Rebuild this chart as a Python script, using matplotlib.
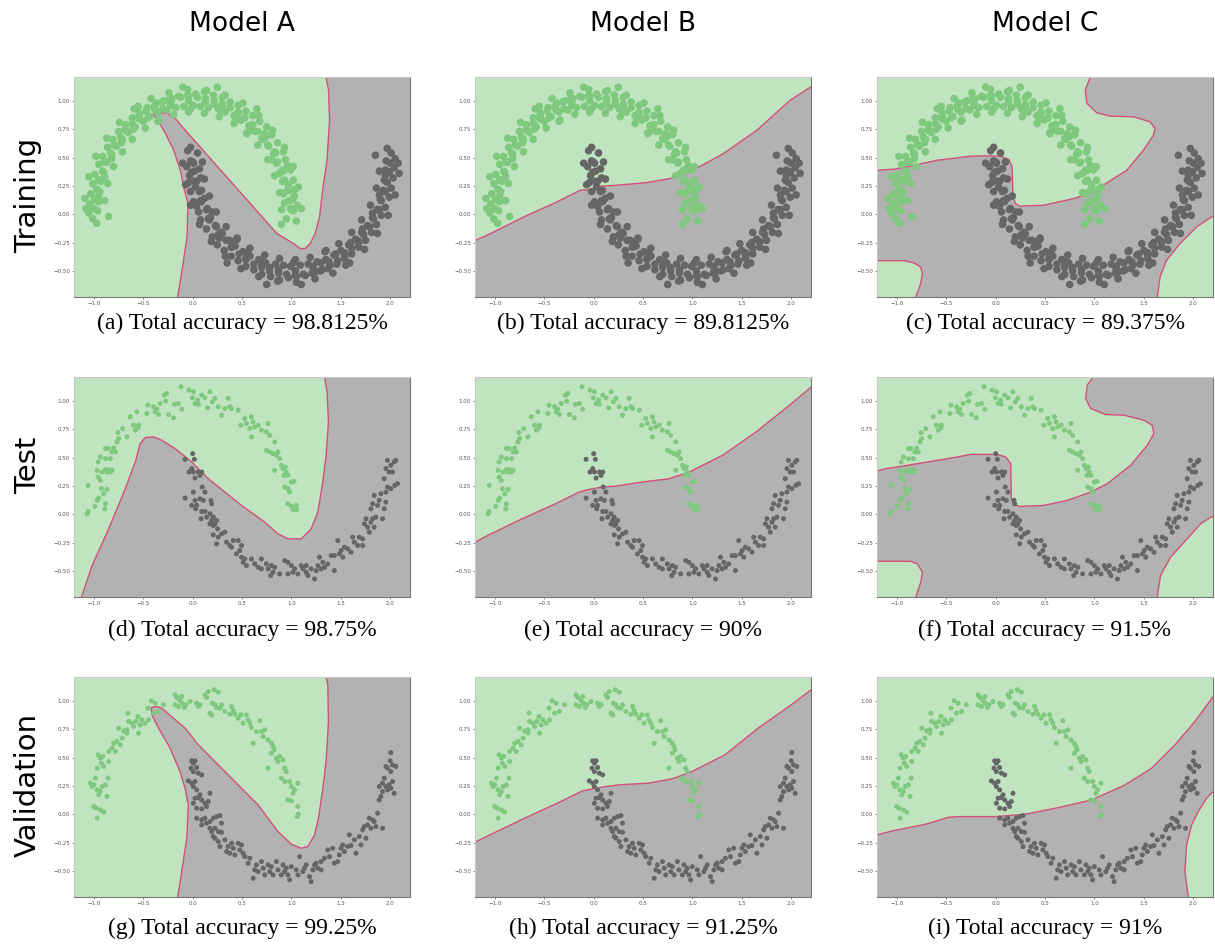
import numpy as np
import matplotlib.pyplot as plt

# ---------------- data ----------------
x_range = (-1.2, 2.2)
y_range = (-0.73, 1.21)
xticks = [-1.0, -0.5, 0.0, 0.5, 1.0, 1.5, 2.0]
yticks = [-0.5, -0.25, 0.0, 0.25, 0.5, 0.75, 1.0]

models = ['Model A', 'Model B', 'Model C']
sets = ['Training', 'Test', 'Validation']
accuracy = [['98.8125', '89.8125', '89.375'],
            ['98.75', '90', '91.5'],
            ['99.25', '91.25', '91']]
letters = 'abcdefghi'

# training points (class 0 = upper moon, class 1 = lower moon)
train_green = np.array([
    1.02,0.03, 0.95,-0.04, 1.06,0.08, 0.98,0.12, 1.05,-0.06, 0.93,0.10, 1.03,0.16, 0.99,0.05,
    1.04,0.22, 0.92,0.18, 0.97,0.26, 1.01,0.13, 0.91,0.29, 1.02,0.30, 0.96,0.21,
    0.88,0.36, 0.99,0.39, 0.93,0.30, 0.96,0.43, 0.85,0.45, 0.94,0.48, 0.91,0.39,
    0.82,0.53, 0.92,0.55, 0.86,0.46, 0.80,0.48, 0.77,0.60, 0.86,0.63, 0.83,0.55,
    0.71,0.66, 0.80,0.70, 0.76,0.61, 0.73,0.71, 0.66,0.73, 0.75,0.77, 0.70,0.67,
    0.60,0.79, 0.68,0.82, 0.63,0.73, 0.58,0.74, 0.53,0.85, 0.61,0.87, 0.57,0.78,
    0.46,0.90, 0.54,0.91, 0.49,0.83, 0.44,0.84, 0.38,0.94, 0.46,0.96, 0.42,0.87,
    0.30,0.97, 0.38,0.99, 0.33,0.90, 0.28,0.92, 0.22,1.00, 0.30,1.03, 0.26,0.93,
    0.13,1.02, 0.21,1.05, 0.16,0.94, 0.22,0.97, 0.05,1.03, 0.12,1.08, 0.08,0.95,
    -0.04,1.04, 0.03,1.06, 0.01,0.96, -0.02,0.93, -0.12,1.03, -0.05,1.05, -0.09,0.95,
    -0.21,1.02, -0.14,1.04, -0.17,0.94, -0.22,0.96, -0.29,1.00, -0.23,1.02, -0.26,0.92,
    -0.37,0.98, -0.31,0.99, -0.35,0.90, -0.30,0.93, -0.46,0.94, -0.39,0.95, -0.43,0.86,
    -0.54,0.89, -0.47,0.91, -0.50,0.82, -0.45,0.85, -0.61,0.85, -0.54,0.86, -0.58,0.77,
    -0.68,0.79, -0.61,0.80, -0.65,0.72, -0.60,0.75, -0.75,0.73, -0.68,0.75, -0.71,0.66,
    -0.81,0.66, -0.73,0.68, -0.77,0.60, -0.72,0.63, -0.86,0.59, -0.79,0.61, -0.82,0.53,
    -0.91,0.51, -0.83,0.54, -0.87,0.46, -0.82,0.49, -0.95,0.44, -0.87,0.46, -0.91,0.38,
    -0.99,0.35, -0.90,0.37, -0.94,0.30, -0.89,0.33, -1.01,0.27, -0.93,0.29, -0.97,0.22,
    -1.03,0.18, -0.94,0.20, -0.99,0.13, -0.95,0.16, -1.04,0.09, -0.95,0.11, -1.00,0.05,
    -1.05,0.01, -0.96,0.03, -1.01,-0.04, -0.97,-0.08, -1.08,0.05,
    -0.10,1.12, 0.25,1.12, -0.35,0.82, 0.55,0.72, 0.90,-0.09, -0.85,-0.02, -0.55,0.95, 0.65,0.93,
    1.10,0.05, 1.07,0.24, 1.02,0.42, 0.93,0.59, 0.81,0.74, 0.67,0.87, 0.51,0.98, 0.33,1.05,
    0.14,1.09, -0.05,1.10, -0.24,1.07, -0.42,1.02, -0.59,0.93, -0.74,0.81, -0.87,0.67, -0.98,0.51,
    -1.05,0.33, -1.09,0.14,
    0.90,0.04, 0.88,0.19, 0.83,0.34, 0.76,0.48, 0.66,0.61, 0.55,0.71, 0.42,0.80, 0.27,0.86,
    0.12,0.89, -0.04,0.90, -0.19,0.88, -0.34,0.83, -0.48,0.76, -0.61,0.66, -0.71,0.55, -0.80,0.42,
    -0.86,0.27, -0.89,0.12,
    1.00,0.04, 0.98,0.21, 0.92,0.38, 0.84,0.54, 0.74,0.68, 0.61,0.79, 0.46,0.89, 0.30,0.95,
    0.13,0.99, -0.04,1.00, -0.22,0.98, -0.38,0.92, -0.54,0.84, -0.68,0.74, -0.79,0.61, -0.89,0.46,
    -0.95,0.30, -0.99,0.13,
]).reshape(-1, 2)

train_grey = np.array([
    -0.02,0.47, 0.05,0.54, -0.06,0.42, 0.02,0.38, -0.05,0.56, 0.07,0.40, -0.03,0.34, 0.01,0.45,
    -0.04,0.28, 0.08,0.32, 0.03,0.24, -0.01,0.37, 0.09,0.21, -0.02,0.20, 0.04,0.29,
    0.12,0.14, 0.01,0.11, 0.07,0.20, 0.04,0.07, 0.15,0.05, 0.06,0.02, 0.09,0.11,
    0.18,-0.03, 0.08,-0.05, 0.14,0.04, 0.20,0.02, 0.23,-0.10, 0.14,-0.13, 0.17,-0.05,
    0.29,-0.16, 0.20,-0.20, 0.24,-0.11, 0.27,-0.21, 0.34,-0.23, 0.25,-0.27, 0.30,-0.17,
    0.40,-0.29, 0.32,-0.32, 0.37,-0.23, 0.42,-0.24, 0.47,-0.35, 0.39,-0.37, 0.43,-0.28,
    0.54,-0.40, 0.46,-0.41, 0.51,-0.33, 0.56,-0.34, 0.62,-0.44, 0.54,-0.46, 0.58,-0.37,
    0.70,-0.47, 0.62,-0.49, 0.67,-0.40, 0.72,-0.42, 0.78,-0.50, 0.70,-0.53, 0.74,-0.43,
    0.87,-0.52, 0.79,-0.55, 0.84,-0.44, 0.78,-0.47, 0.95,-0.53, 0.88,-0.58, 0.92,-0.45,
    1.04,-0.54, 0.97,-0.56, 0.99,-0.46, 1.02,-0.43, 1.12,-0.53, 1.05,-0.55, 1.09,-0.45,
    1.21,-0.52, 1.14,-0.54, 1.17,-0.44, 1.22,-0.46, 1.29,-0.50, 1.23,-0.52, 1.26,-0.42,
    1.37,-0.48, 1.31,-0.49, 1.35,-0.40, 1.30,-0.43, 1.46,-0.44, 1.39,-0.45, 1.43,-0.36,
    1.54,-0.39, 1.47,-0.41, 1.50,-0.32, 1.45,-0.35, 1.61,-0.35, 1.54,-0.36, 1.58,-0.27,
    1.68,-0.29, 1.61,-0.30, 1.65,-0.22, 1.60,-0.25, 1.75,-0.23, 1.68,-0.25, 1.71,-0.16,
    1.81,-0.16, 1.73,-0.18, 1.77,-0.10, 1.72,-0.13, 1.86,-0.09, 1.79,-0.11, 1.82,-0.03,
    1.91,-0.01, 1.83,-0.04, 1.87,0.04, 1.82,0.01, 1.95,0.06, 1.87,0.04, 1.91,0.12,
    1.99,0.15, 1.90,0.13, 1.94,0.20, 1.89,0.17, 2.01,0.23, 1.93,0.21, 1.97,0.28,
    2.03,0.32, 1.94,0.30, 1.99,0.37, 1.95,0.34, 2.04,0.41, 1.95,0.39, 2.00,0.45,
    2.05,0.49, 1.96,0.47, 2.01,0.54, 1.97,0.58, 2.08,0.45,
    1.10,-0.62, 0.75,-0.62, 1.35,-0.32, 0.45,-0.22, -0.02,0.59, 1.85,0.52, 1.55,-0.45, 0.35,-0.43,
    -0.10,0.45, -0.07,0.26, -0.02,0.08, 0.07,-0.09, 0.19,-0.24, 0.33,-0.37, 0.49,-0.48, 0.67,-0.55,
    0.86,-0.59, 1.05,-0.60, 1.24,-0.57, 1.42,-0.52, 1.59,-0.43, 1.74,-0.31, 1.87,-0.17, 1.98,-0.01,
    2.05,0.17, 2.09,0.36,
    0.10,0.46, 0.12,0.31, 0.17,0.16, 0.24,0.02, 0.34,-0.11, 0.45,-0.21, 0.58,-0.30, 0.73,-0.36,
    0.88,-0.39, 1.04,-0.40, 1.19,-0.38, 1.34,-0.33, 1.48,-0.26, 1.61,-0.16, 1.71,-0.05, 1.80,0.08,
    1.86,0.23, 1.89,0.38,
    0.00,0.46, 0.02,0.29, 0.08,0.12, 0.16,-0.04, 0.26,-0.18, 0.39,-0.29, 0.54,-0.39, 0.70,-0.45,
    0.87,-0.49, 1.04,-0.50, 1.22,-0.48, 1.38,-0.42, 1.54,-0.34, 1.68,-0.24, 1.79,-0.11, 1.89,0.04,
    1.95,0.20, 1.99,0.37,
]).reshape(-1, 2)

test_green = np.array([
    -1.067,0.004, -1.057,0.024, -1.057,0.254, -0.99,0.069, -0.966,0.122, -0.95,0.142, -0.956,0.461,
    -0.966,0.387, -0.956,0.328, -0.933,0.299, -0.923,0.225, -0.899,0.181, -0.889,0.048, -0.882,0.092,
    -0.866,0.219, -0.882,0.49, -0.933,0.505, -0.856,0.579, -0.882,0.579, -0.916,0.372, -0.882,0.393,
    -0.849,0.393, -0.832,0.372, -0.815,0.387, -0.866,0.372, -0.832,0.49, -0.815,0.549, -0.782,0.549,
    -0.798,0.584, -0.765,0.637, -0.748,0.667, -0.755,0.72, -0.708,0.755, -0.664,0.682, -0.631,0.859,
    -0.597,0.785, -0.58,0.741, -0.553,0.761, -0.547,0.785, -0.563,0.903, -0.463,0.888, -0.452,0.962,
    -0.395,0.947, -0.379,0.903, -0.362,0.926, -0.345,0.879, -0.328,0.976, -0.285,1.05, -0.261,1.065,
    -0.272,0.997, -0.244,0.879, -0.194,0.85, -0.184,0.968, -0.143,0.976, -0.11,0.926, -0.117,1.124,
    -0.036,1.094, -0.002,1.027, 0.008,1.08, 0.025,0.976, 0.051,1.006, 0.058,0.968, 0.092,1.05,
    0.125,1.027, 0.152,0.938, 0.176,1.08, 0.2,0.991, 0.226,1.021, 0.26,0.947, 0.293,0.873,
    0.327,0.932, 0.36,1.021, 0.377,0.947, 0.394,0.932, 0.461,0.917, 0.488,0.785, 0.528,0.844,
    0.545,0.8, 0.579,0.755, 0.595,0.859, 0.612,0.814, 0.629,0.77, 0.596,0.682, 0.663,0.785,
    0.696,0.741, 0.746,0.726, 0.764,0.8, 0.78,0.696, 0.831,0.637, 0.747,0.564, 0.78,0.549,
    0.814,0.534, 0.848,0.52, 0.864,0.549, 0.881,0.49, 0.831,0.387, 0.898,0.431, 0.915,0.402,
    0.938,0.416, 0.948,0.372, 0.925,0.343, 0.965,0.343, 0.932,0.24, 0.965,0.225, 0.999,0.284,
    1.026,0.29, 0.982,0.195, 0.965,0.092, 0.999,0.072, 1.016,0.042, 1.05,0.077, 1.05,0.042,
]).reshape(-1, 2)

test_grey = np.array([
    0.001,0.534, 0.018,0.484, -0.076,0.484, -0.036,0.372, -0.009,0.402, 0.008,0.372, 0.025,0.319,
    0.058,0.372, 0.075,0.343, 0.092,0.372, 0.008,0.195, 0.025,0.122, -0.076,0.142, -0.009,0.078,
    0.041,0.078, 0.075,0.136, 0.108,0.122, 0.098,0.24, 0.125,0.195, 0.186,0.122, 0.193,0.092,
    0.031,0.048, 0.092,0.024, 0.125,0.024, 0.085,-0.04, 0.142,-0.026, 0.176,0.004, 0.193,-0.055,
    0.209,-0.026, 0.226,-0.085, 0.209,-0.099, 0.243,-0.055, 0.176,-0.085, 0.253,-0.129, 0.209,-0.182,
    0.26,-0.202, 0.293,-0.173, 0.327,-0.158, 0.243,-0.261, 0.344,-0.247, 0.377,-0.276, 0.411,-0.232,
    0.394,-0.291, 0.461,-0.232, 0.495,-0.276, 0.478,-0.32, 0.444,-0.35, 0.495,-0.379, 0.528,-0.394,
    0.511,-0.424, 0.545,-0.453, 0.596,-0.394, 0.629,-0.438, 0.663,-0.468, 0.696,-0.394, 0.696,-0.482,
    0.747,-0.438, 0.764,-0.482, 0.797,-0.453, 0.79,-0.541, 0.814,-0.512, 0.831,-0.468, 0.881,-0.526,
    0.932,-0.409, 0.965,-0.424, 0.999,-0.453, 0.965,-0.527, 1.016,-0.512, 1.033,-0.482, 1.066,-0.527,
    1.1,-0.453, 1.117,-0.482, 1.15,-0.512, 1.167,-0.541, 1.15,-0.453, 1.2,-0.482, 1.234,-0.571,
    1.251,-0.497, 1.268,-0.453, 1.284,-0.379, 1.301,-0.482, 1.318,-0.424, 1.335,-0.468, 1.368,-0.438,
    1.435,-0.497, 1.402,-0.365, 1.469,-0.232, 1.435,-0.365, 1.486,-0.35, 1.503,-0.32, 1.52,-0.379,
    1.536,-0.291, 1.57,-0.306, 1.603,-0.335, 1.62,-0.202, 1.637,-0.247, 1.67,-0.276, 1.687,-0.202,
    1.721,-0.217, 1.721,-0.276, 1.738,-0.085, 1.754,-0.04, 1.771,-0.114, 1.788,-0.158, 1.805,-0.07,
    1.822,-0.04, 1.838,-0.114, 1.855,-0.026, 1.805,0.048, 1.822,0.092, 1.838,0.166, 1.872,0.078,
    1.888,0.122, 1.905,0.181, 1.922,-0.04, 1.939,0.048, 1.939,0.313, 1.956,0.402, 1.972,0.475,
    1.989,0.372, 2.006,0.431, 2.023,0.372, 2.04,0.461, 2.056,0.475, 1.972,0.24, 2.006,0.225,
    2.046,0.254, 2.073,0.269, 1.956,0.195, 1.956,0.107,
]).reshape(-1, 2)

val_green = np.array([
    -0.966,-0.035, -1.0,0.068, -0.976,0.053, -0.933,0.038, -0.899,0.018, -1.034,0.274, -1.017,0.244,
    -1.0,0.259, -0.983,0.318, -0.966,0.215, -0.95,0.171, -0.933,0.2, -0.916,0.244, -0.882,0.259,
    -0.866,0.156, -0.856,0.318, -0.966,0.406, -0.956,0.524, -0.933,0.494, -0.923,0.45, -0.899,0.421,
    -0.909,0.509, -0.849,0.465, -0.849,0.553, -0.815,0.582, -0.798,0.626, -0.782,0.553, -0.765,0.641,
    -0.731,0.612, -0.714,0.671, -0.748,0.759, -0.697,0.735, -0.664,0.715, -0.664,0.744, -0.647,0.818,
    -0.654,0.891, -0.614,0.803, -0.597,0.774, -0.573,0.818, -0.553,0.862, -0.547,0.715, -0.53,0.788,
    -0.513,0.832, -0.48,0.803, -0.452,0.935, -0.446,0.832, -0.419,1.0, -0.395,0.891, -0.379,0.979,
    -0.345,0.906, -0.295,0.965, -0.177,0.965, -0.177,1.053, -0.16,1.029, -0.143,0.95, -0.127,1.0,
    -0.11,1.038, -0.103,0.979, -0.083,0.941, -0.069,0.965, -0.026,0.994, 0.041,0.979, 0.058,0.95,
    0.075,0.965, 0.125,1.053, 0.142,1.029, 0.159,1.082, 0.176,0.891, 0.193,0.876, 0.2,0.979,
    0.22,1.097, 0.226,0.965, 0.243,0.941, 0.26,1.076, 0.277,0.935, 0.293,0.965, 0.327,0.906,
    0.377,0.882, 0.394,0.95, 0.411,0.912, 0.428,0.882, 0.461,0.847, 0.488,0.876, 0.511,0.803,
    0.545,0.876, 0.562,0.832, 0.579,0.803, 0.596,0.765, 0.613,0.626, 0.646,0.729, 0.68,0.824,
    0.697,0.729, 0.714,0.685, 0.73,0.744, 0.764,0.656, 0.797,0.626, 0.814,0.597, 0.797,0.538,
    0.824,0.568, 0.848,0.494, 0.864,0.465, 0.881,0.509, 0.915,0.479, 0.764,0.406, 0.932,0.406,
    0.948,0.376, 0.898,0.318, 0.932,0.288, 0.982,0.288, 0.999,0.244, 1.032,0.215, 1.016,0.185,
    1.066,0.274, 0.965,0.126, 0.999,0.118, 1.066,0.068, 1.059,-0.021, 1.072,0.0,
]).reshape(-1, 2)

val_grey = np.array([
    -0.009,0.471, 0.008,0.45, 0.025,0.471, -0.016,0.406, 0.008,0.376, 0.041,0.412, 0.058,0.362,
    -0.043,0.294, -0.009,0.274, 0.025,0.288, 0.092,0.347, 0.008,0.244, 0.041,0.215, 0.075,0.171,
    0.025,0.141, 0.058,0.147, 0.092,0.126, 0.125,0.097, 0.159,0.112, 0.176,0.185, 0.008,0.097,
    0.041,0.053, 0.092,0.047, 0.142,0.068, 0.041,-0.035, 0.092,-0.05, 0.125,-0.035, 0.092,-0.094,
    0.142,-0.079, 0.176,-0.065, 0.209,-0.035, 0.243,-0.021, 0.277,-0.012, 0.176,-0.124, 0.193,-0.153,
    0.209,-0.197, 0.226,-0.124, 0.26,-0.153, 0.293,-0.079, 0.226,-0.212, 0.26,-0.241, 0.293,-0.159,
    0.277,-0.285, 0.327,-0.226, 0.344,-0.329, 0.36,-0.285, 0.377,-0.344, 0.394,-0.256, 0.411,-0.3,
    0.428,-0.359, 0.461,-0.256, 0.478,-0.315, 0.495,-0.271, 0.511,-0.344, 0.528,-0.374, 0.562,-0.432,
    0.579,-0.388, 0.629,-0.491, 0.613,-0.565, 0.646,-0.447, 0.663,-0.506, 0.697,-0.418, 0.714,-0.476,
    0.73,-0.535, 0.764,-0.447, 0.781,-0.506, 0.797,-0.462, 0.814,-0.535, 0.848,-0.418, 0.864,-0.491,
    0.898,-0.535, 0.915,-0.447, 0.932,-0.506, 0.948,-0.476, 0.965,-0.535, 0.982,-0.579, 0.999,-0.462,
    1.049,-0.491, 1.066,-0.535, 1.083,-0.374, 1.116,-0.506, 1.133,-0.476, 1.15,-0.447, 1.183,-0.55,
    1.2,-0.594, 1.217,-0.491, 1.234,-0.447, 1.251,-0.432, 1.267,-0.476, 1.301,-0.491, 1.301,-0.418,
    1.334,-0.388, 1.368,-0.315, 1.385,-0.374, 1.418,-0.3, 1.435,-0.432, 1.469,-0.418, 1.485,-0.359,
    1.502,-0.3, 1.519,-0.271, 1.536,-0.329, 1.569,-0.285, 1.586,-0.182, 1.603,-0.276, 1.637,-0.226,
    1.653,-0.344, 1.687,-0.197, 1.704,-0.271, 1.721,-0.138, 1.737,-0.109, 1.754,-0.212, 1.771,-0.094,
    1.788,-0.035, 1.805,-0.124, 1.822,-0.05, 1.838,-0.065, 1.855,-0.109, 1.872,0.009, 1.922,-0.124,
    1.889,0.126, 1.905,0.156, 1.922,0.2, 1.889,0.244, 1.922,0.274, 1.939,0.318, 1.956,0.244,
    1.973,0.215, 1.989,0.259, 2.006,0.229, 2.023,0.288, 2.04,0.185, 2.006,0.376, 2.023,0.435,
    1.956,0.421, 1.973,0.406, 2.0,0.471, 2.056,0.421, 2.006,0.544,
]).reshape(-1, 2)

# decision boundaries
bnd_a1 = np.array([-0.16,-0.8, -0.151,-0.73, -0.107,-0.494, -0.056,-0.2, -0.046,0.094, -0.083,0.212,
    -0.124,0.388, -0.191,0.565, -0.292,0.741, -0.376,0.859, -0.40,0.874, -0.39,0.89, -0.36,0.894,
    -0.26,0.894, -0.174,0.844, -0.09,0.756, 0.854,-0.171, 1.022,-0.259, 1.09,-0.303, 1.14,-0.303,
    1.19,-0.259, 1.24,-0.171, 1.285,-0.024, 1.30,0.094, 1.325,0.27, 1.36,0.476, 1.386,0.829,
    1.376,1.094, 1.35,1.21, 1.34,1.3]).reshape(-1, 2)
bnd_b1 = np.array([-1.3,-0.28, -1.229,-0.244, -1.044,-0.171, -0.707,-0.024, -0.37,0.109, -0.134,0.212,
    -0.033,0.218, 0.068,0.247, 0.237,0.256, 0.54,0.279, 0.776,0.315, 0.978,0.374, 1.315,0.535,
    1.653,0.741, 1.99,1.006, 2.175,1.109, 2.3,1.17]).reshape(-1, 2)
bnd_c1 = np.array([-1.3,0.385, -1.2,0.388, -1.027,0.397, -0.825,0.432, -0.59,0.476, -0.253,0.512,
    -0.119,0.515, 0.05,0.512, 0.134,0.482, 0.167,0.418, 0.177,0.153, 0.2,0.094, 0.25,0.071,
    0.487,0.079, 0.79,0.138, 0.99,0.197, 1.09,0.256, 1.328,0.388, 1.496,0.565, 1.597,0.697,
    1.614,0.756, 1.563,0.815, 1.395,0.859, 1.16,0.865, 1.025,0.894, 0.924,0.976, 0.907,1.094,
    0.958,1.21, 0.99,1.3]).reshape(-1, 2)
bnd_c1_bl = np.array([-1.3,-0.41, -0.926,-0.41, -0.825,-0.43, -0.758,-0.465, -0.741,-0.524,
    -0.758,-0.612, -0.808,-0.73, -0.83,-0.8]).reshape(-1, 2)
bnd_c1_br = np.array([1.62,-0.8, 1.637,-0.73, 1.664,-0.553, 1.731,-0.406, 1.866,-0.259, 2.034,-0.112,
    2.185,-0.024, 2.3,0.01]).reshape(-1, 2)
bnd_a2 = np.array([-1.15,-0.8, -1.124,-0.73, -1.017,-0.453, -0.849,-0.129, -0.681,0.225, -0.58,0.461,
    -0.53,0.623, -0.479,0.676, -0.395,0.682, -0.311,0.652, -0.177,0.579, -0.009,0.461, 0.159,0.313,
    0.495,0.078, 0.73,-0.07, 0.864,-0.173, 0.965,-0.217, 1.1,-0.217, 1.2,-0.129, 1.267,0.019,
    1.318,0.284, 1.351,0.52, 1.375,0.814, 1.361,1.08, 1.335,1.21, 1.32,1.3]).reshape(-1, 2)
bnd_b2 = np.array([-1.3,-0.28, -1.2,-0.247, -1.061,-0.182, -0.723,-0.04, -0.385,0.092, -0.148,0.195,
    -0.046,0.219, 0.089,0.24, 0.224,0.248, 0.495,0.284, 0.765,0.313, 0.968,0.372, 1.306,0.52,
    1.645,0.726, 1.983,0.962, 2.186,1.109, 2.3,1.2]).reshape(-1, 2)
bnd_c2 = np.array([-1.3,0.378, -1.2,0.381, -1.111,0.402, -0.892,0.431, -0.589,0.475, -0.387,0.505,
    -0.252,0.528, 0.018,0.528, 0.102,0.505, 0.153,0.446, 0.159,0.136, 0.186,0.083, 0.254,0.069,
    0.49,0.078, 0.726,0.122, 0.962,0.195, 1.13,0.269, 1.366,0.431, 1.535,0.608, 1.602,0.711,
    1.585,0.785, 1.501,0.829, 1.299,0.873, 1.113,0.879, 0.962,0.932, 0.911,1.021, 0.928,1.139,
    0.989,1.21, 1.02,1.3]).reshape(-1, 2)
bnd_c2_bl = np.array([-1.3,-0.415, -0.858,-0.415, -0.791,-0.438, -0.74,-0.512, -0.757,-0.6,
    -0.808,-0.73, -0.82,-0.8]).reshape(-1, 2)
bnd_c2_br = np.array([1.63,-0.8, 1.636,-0.73, 1.669,-0.541, 1.77,-0.379, 1.939,-0.217, 2.074,-0.085,
    2.18,-0.026, 2.3,0.0]).reshape(-1, 2)
bnd_a3 = np.array([-0.16,-0.8, -0.15,-0.73, -0.11,-0.506, -0.059,-0.212, -0.043,0.082, -0.076,0.229,
    -0.127,0.376, -0.227,0.582, -0.345,0.759, -0.412,0.876, -0.419,0.941, -0.362,0.95, -0.311,0.935,
    -0.194,0.847, -0.076,0.759, 0.058,0.612, 0.327,0.376, 0.663,0.082, 0.864,-0.153, 0.999,-0.265,
    1.099,-0.3, 1.167,-0.285, 1.234,-0.182, 1.274,-0.035, 1.318,0.229, 1.351,0.465, 1.375,0.818,
    1.368,1.141, 1.351,1.21, 1.345,1.3]).reshape(-1, 2)
bnd_b3 = np.array([-1.3,-0.28, -1.2,-0.247, -1.017,-0.168, -0.682,-0.029, -0.346,0.106, -0.112,0.206,
    -0.011,0.224, 0.123,0.244, 0.257,0.259, 0.559,0.274, 0.794,0.312, 0.995,0.376, 1.33,0.524,
    1.665,0.759, 2.0,0.965, 2.201,1.097, 2.3,1.16]).reshape(-1, 2)
bnd_c3 = np.array([-1.3,-0.21, -1.2,-0.182, -1.044,-0.147, -0.707,-0.088, -0.472,-0.026, -0.371,-0.021,
    -0.001,-0.021, 0.302,0.0, 0.638,0.059, 0.974,0.126, 1.311,0.259, 1.58,0.406, 1.815,0.612,
    2.017,0.818, 2.202,1.038, 2.3,1.15]).reshape(-1, 2)
bnd_c3_br = np.array([1.955,-0.8, 1.95,-0.73, 1.916,-0.506, 1.933,-0.271, 1.984,-0.094, 2.051,0.024,
    2.135,0.141, 2.202,0.2, 2.3,0.26]).reshape(-1, 2)

# ---------------- style ----------------
green_bg = '#bfe4bf'
grey_bg = '#b2b2b2'
green_pt = '#7fc97f'
grey_pt = '#666666'
edge_col = '#d4507a'
far = {'tl': (-1.3, 1.3), 'tr': (2.3, 1.3), 'bl': (-1.3, -0.8), 'br': (2.3, -0.8)}

# (background colour, region colour, [(boundary, corners closing the region)])
panels = [
    [(green_bg, grey_bg, [(bnd_a1, ['tr', 'br'])]),
     (grey_bg, green_bg, [(bnd_b1, ['tr', 'tl'])]),
     (grey_bg, green_bg, [(bnd_c1, ['tl']), (bnd_c1_bl, ['bl']), (bnd_c1_br, ['br'])])],
    [(green_bg, grey_bg, [(bnd_a2, ['tr', 'br'])]),
     (grey_bg, green_bg, [(bnd_b2, ['tr', 'tl'])]),
     (grey_bg, green_bg, [(bnd_c2, ['tl']), (bnd_c2_bl, ['bl']), (bnd_c2_br, ['br'])])],
    [(green_bg, grey_bg, [(bnd_a3, ['tr', 'br'])]),
     (grey_bg, green_bg, [(bnd_b3, ['tr', 'tl'])]),
     (grey_bg, green_bg, [(bnd_c3, ['tr', 'tl']), (bnd_c3_br, ['br'])])],
]
points = [(train_green, train_grey, 30), (test_green, test_grey, 13), (val_green, val_grey, 13)]

W, H = 1215, 946
fig = plt.figure(figsize=(W / 100, H / 100), dpi=100)
lefts = [74, 475, 877]
tops = [77, 377, 677]
aw, ah = 336, 220
cap_y = [323, 630, 928]
row_y = [195, 465, 785]

for r in range(3):
    for c in range(3):
        ax = fig.add_axes([lefts[c] / W, 1 - (tops[r] + ah) / H, aw / W, ah / H])
        bg, fill, regions = panels[r][c]
        ax.set_facecolor(bg)
        for line, corners in regions:
            poly = np.vstack([line, [far[k] for k in corners]])
            ax.fill(poly[:, 0], poly[:, 1], color=fill, lw=0, zorder=0)
            ax.plot(line[:, 0], line[:, 1], color=edge_col, lw=1.0, zorder=1)
        g, k, s = points[r]
        ax.scatter(g[:, 0], g[:, 1], s=s, c=green_pt, edgecolors='none', zorder=2)
        ax.scatter(k[:, 0], k[:, 1], s=s, c=grey_pt, edgecolors='none', zorder=2)
        ax.set_xlim(x_range)
        ax.set_ylim(y_range)
        ax.set_xticks(xticks)
        ax.set_yticks(yticks)
        ax.tick_params(labelsize=4, colors='#555555', length=1.5, width=0.5, pad=1.5)
        for side in ['left', 'top']:
            ax.spines[side].set_color('#c8c8c8')
        for side in ['right', 'bottom']:
            ax.spines[side].set_color('#777777')
        idx = r * 3 + c
        fig.text((lefts[c] + aw / 2) / W, 1 - cap_y[r] / H,
                 f'({letters[idx]}) Total accuracy = {accuracy[r][c]}%',
                 ha='center', va='center', fontsize=17, family='Liberation Serif')

for c in range(3):
    fig.text((lefts[c] + aw / 2) / W, 1 - 31 / H, models[c], ha='center', va='baseline',
             fontsize=19)
for r in range(3):
    fig.text(28 / W, 1 - row_y[r] / H, sets[r], rotation=90, ha='center', va='center',
             fontsize=21)

fig.savefig('out.png', dpi=100)
